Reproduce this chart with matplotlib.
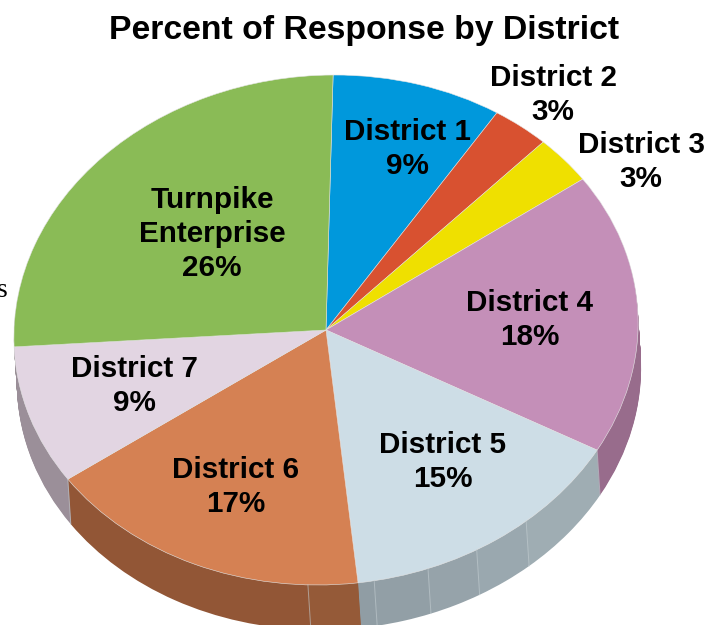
import numpy as np
import matplotlib
matplotlib.use("Agg")
import matplotlib.pyplot as plt
from matplotlib.transforms import Affine2D

plt.rcParams['font.family'] = ['Liberation Sans', 'DejaVu Sans']

# shares, clockwise from the top
names = ['District 1', 'District 2', 'District 3', 'District 4', 'District 5',
         'District 6', 'District 7', 'Turnpike\nEnterprise']
shares = [8.86, 3.03, 3.12, 17.88, 15.11, 17.14, 8.89, 25.97]
pct_labels = ['9%', '3%', '3%', '18%', '15%', '17%', '9%', '26%']
colors = ['#0098dc', '#d85130', '#efe000', '#c48fb8', '#cddde6', '#d58153', '#e2d5e2', '#8abb56']
label_x = [407, 553, 641, 530, 443, 236, 134, 212]
label_y = [149, 95, 162, 320, 462, 487, 386, 234]

# side wall, the district 5 and 6 parts are cut in facets
wall_shares = [8.86, 3.03, 3.12, 17.88, 5.67, 3.06, 2.72, 2.83, 0.83, 2.56, 14.58, 8.89, 25.97]
wall_colors = ['#006a9a', '#974e22', '#a79d00', '#986c8c', '#9fadb3', '#9aa8af', '#96a3aa',
               '#929fa6', '#909da4', '#955a38', '#925636', '#9b8f99', '#608339']
seam_idx = [3, 4, 5, 6, 7, 9, 10]

start_angle = 90.3
cx, cy = 326, 330
rx, ry = 312, 255
depth = 45
shift = 4.5
skew = 0.028  # the ellipse leans a bit to the right


def plot_pie():
    fig = plt.figure(figsize=(7.16, 6.25), dpi=100)
    ax = fig.add_axes([0, 0, 1, 1])
    lean = Affine2D.from_values(1, 0, skew, 1, 0, 0) + ax.transData

    # stack of darker pies makes the wall
    for d in range(depth, 0, -1):
        wedges, _ = ax.pie(wall_shares, colors=wall_colors, startangle=start_angle, counterclock=False,
                           center=(shift * d / depth / rx, -d / ry), radius=1)
        for w in wedges:
            w.set_transform(lean)

    wedges, _ = ax.pie(shares, colors=colors, startangle=start_angle, counterclock=False, center=(0, 0), radius=1,
                       wedgeprops={'edgecolor': '#e6e6e6', 'linewidth': 0.4})
    for w in wedges:
        w.set_transform(lean)

    # pale seams on the wall
    cum = np.cumsum(wall_shares)
    for i in seam_idx:
        a = np.deg2rad(start_angle - cum[i] * 3.6)
        ax.plot([np.cos(a), np.cos(a) + shift / rx], [np.sin(a), np.sin(a) - depth / ry],
                color='#c4ced2', lw=0.7, alpha=0.6, transform=lean)

    ax.set_aspect('auto')
    ax.set_xlim(-cx / rx, (716 - cx) / rx)
    ax.set_ylim((cy - 625) / ry, cy / ry)
    ax.axis('off')

    for name, pct, x, y in zip(names, pct_labels, label_x, label_y):
        fig.text(x / 716, 1 - y / 625, name + '\n' + pct, ha='center', va='center', fontsize=21.3,
                 fontweight='bold', color='black', linespacing=1.28)

    fig.text(364 / 716, 1 - 30 / 625, 'Percent of Response by District', ha='center', va='center',
             fontsize=24.3, fontweight='bold', color='black')
    # scrap of text from the page behind the chart
    fig.text(-3 / 716, 1 - 297 / 625, 's', ha='left', va='baseline', fontsize=20,
             family=['Liberation Serif'], color='black')

    fig.savefig('out.png', dpi=100)


if __name__ == "__main__":
    plot_pie()
